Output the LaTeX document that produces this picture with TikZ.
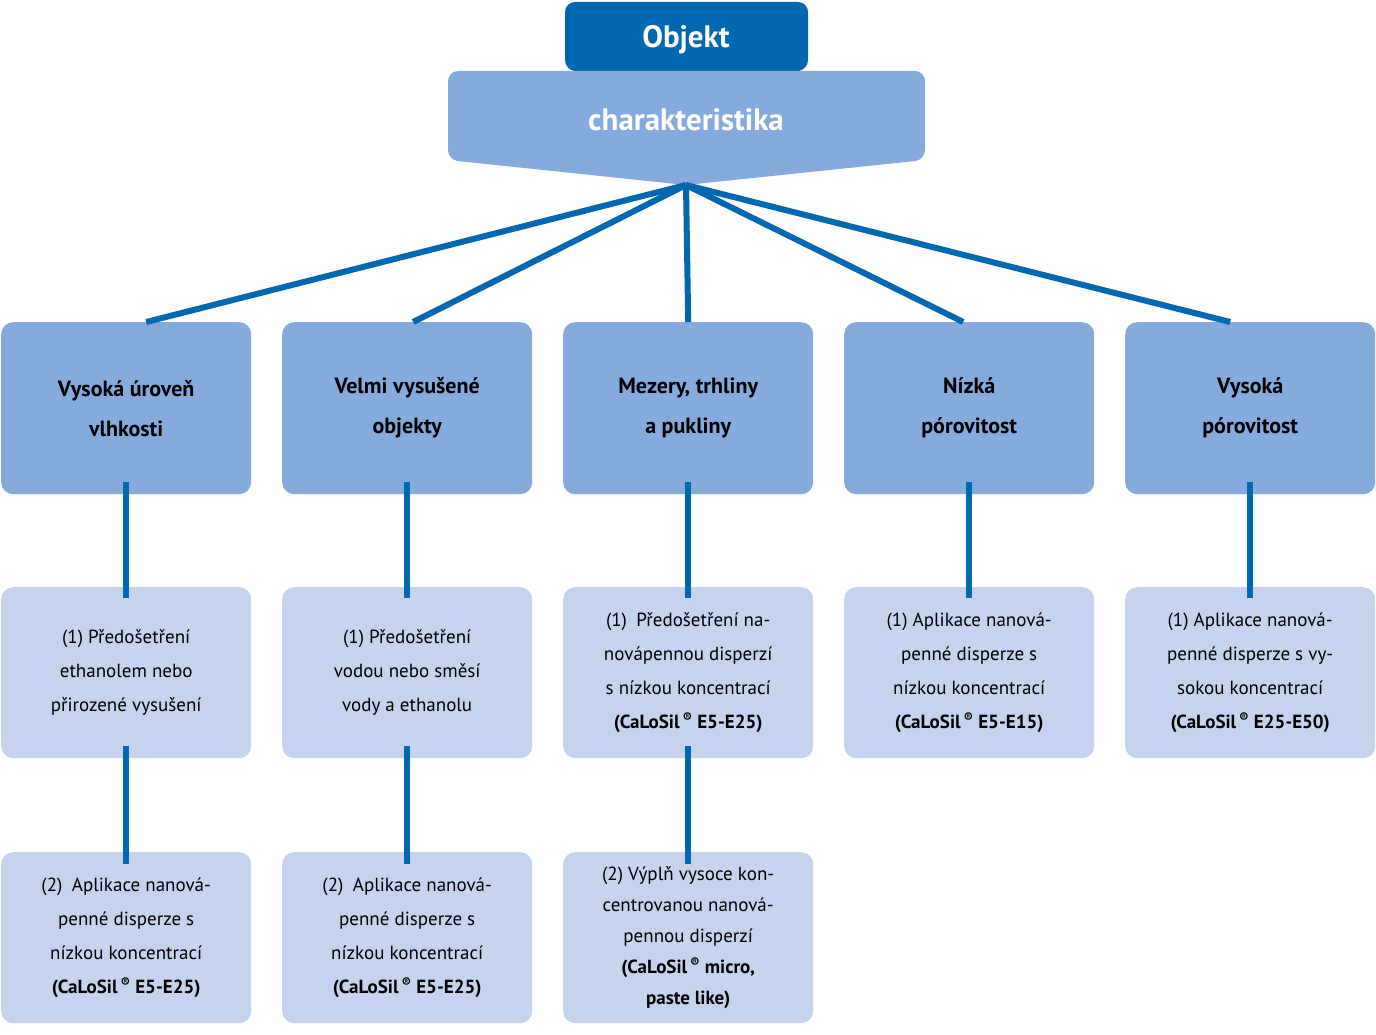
\documentclass[tikz,border=0pt]{standalone}
\usepackage{fontspec}
\setmainfont{PT Sans}
\begin{document}
\begin{tikzpicture}[x=1pt,y=-1pt,
  hd/.style={fill=midb,rounded corners=12pt,minimum width=250pt,minimum height=172pt,anchor=north west,inner sep=0pt,align=center,font=\fontsize{22}{40}\selectfont\bfseries},
  bx/.style={fill=lightb,rounded corners=12pt,minimum width=250pt,minimum height=171pt,anchor=north west,inner sep=0pt,align=center,font=\fontsize{19}{34}\selectfont},
  ln/.style={draw=darkb,line width=6pt}]
\definecolor{darkb}{HTML}{0067B1}
\definecolor{midb}{HTML}{84ABDB}
\definecolor{lightb}{HTML}{C5D3EE}
\useasboundingbox (0,0) rectangle (1376,1035);
% top shapes
\fill[darkb,rounded corners=10pt] (686,84) -- (565,70) -- (565,2) -- (808,2) -- (808,70) -- cycle;
\fill[midb,rounded corners=10pt] (686,185) -- (448,160) -- (448,71) -- (925,71) -- (925,160) -- cycle;
\node[text=white,font=\fontsize{31}{36}\selectfont\bfseries] (obj) at (686,40) {Objekt};
\node[text=white,font=\fontsize{31}{36}\selectfont\bfseries] (char) at (686,120) {charakteristika};
\coordinate (hub) at (686,185);
% headings
\node[hd] (h1) at (1,322) {Vysoká úroveň\\vlhkosti};
\node[hd] (h2) at (282,322) {Velmi vysušené\\objekty};
\node[hd] (h3) at (563,322) {Mezery, trhliny\\a pukliny};
\node[hd] (h4) at (844,322) {Nízká\\pórovitost};
\node[hd] (h5) at (1125,322) {Vysoká\\pórovitost};
\draw[ln] (hub) -- ([xshift=20pt]h1.north);
\draw[ln] (hub) -- ([xshift=6pt]h2.north);
\draw[ln] (hub) -- (h3.north);
\draw[ln] (hub) -- ([xshift=-6pt]h4.north);
\draw[ln] (hub) -- ([xshift=-20pt]h5.north);
% row 2
\node[bx] (a1) at (1,587) {(1) Předošetření\\ethanolem nebo\\přirozené vysušení};
\node[bx] (a2) at (282,587) {(1) Předošetření\\vodou nebo směsí\\vody a ethanolu};
\node[bx] (a3) at (563,587) {(1)\enspace Předošetření na-\\novápennou disperzí\\s nízkou koncentrací\\\textbf{(CaLoSil\,\textsuperscript{®} E5-E25)}};
\node[bx] (a4) at (844,587) {(1) Aplikace nanová-\\penné disperze s\\nízkou koncentrací\\\textbf{(CaLoSil\,\textsuperscript{®} E5-E15)}};
\node[bx] (a5) at (1125,587) {(1) Aplikace nanová-\\penné disperze s vy-\\sokou koncentrací\\\textbf{(CaLoSil\,\textsuperscript{®} E25-E50)}};
% row 3
\node[bx] (b1) at (1,852) {(2)\enspace Aplikace nanová-\\penné disperze s\\nízkou koncentrací\\\textbf{(CaLoSil\,\textsuperscript{®} E5-E25)}};
\node[bx] (b2) at (282,852) {(2)\enspace Aplikace nanová-\\penné disperze s\\nízkou koncentrací\\\textbf{(CaLoSil\,\textsuperscript{®} E5-E25)}};
\node[bx,font=\fontsize{19}{31}\selectfont] (b3) at (563,852) {(2) Výplň vysoce kon-\\centrovanou nanová-\\pennou disperzí\\\textbf{(CaLoSil\,\textsuperscript{®} micro,}\\\textbf{paste like)}};
% verticals
\foreach \i in {1,...,5}{\draw[ln] ([yshift=12pt]h\i.south) -- ([yshift=-11pt]a\i.north);}
\foreach \i in {1,2,3}{\draw[ln] ([yshift=12pt]a\i.south) -- ([yshift=-12pt]b\i.north);}
\end{tikzpicture}
\end{document}
